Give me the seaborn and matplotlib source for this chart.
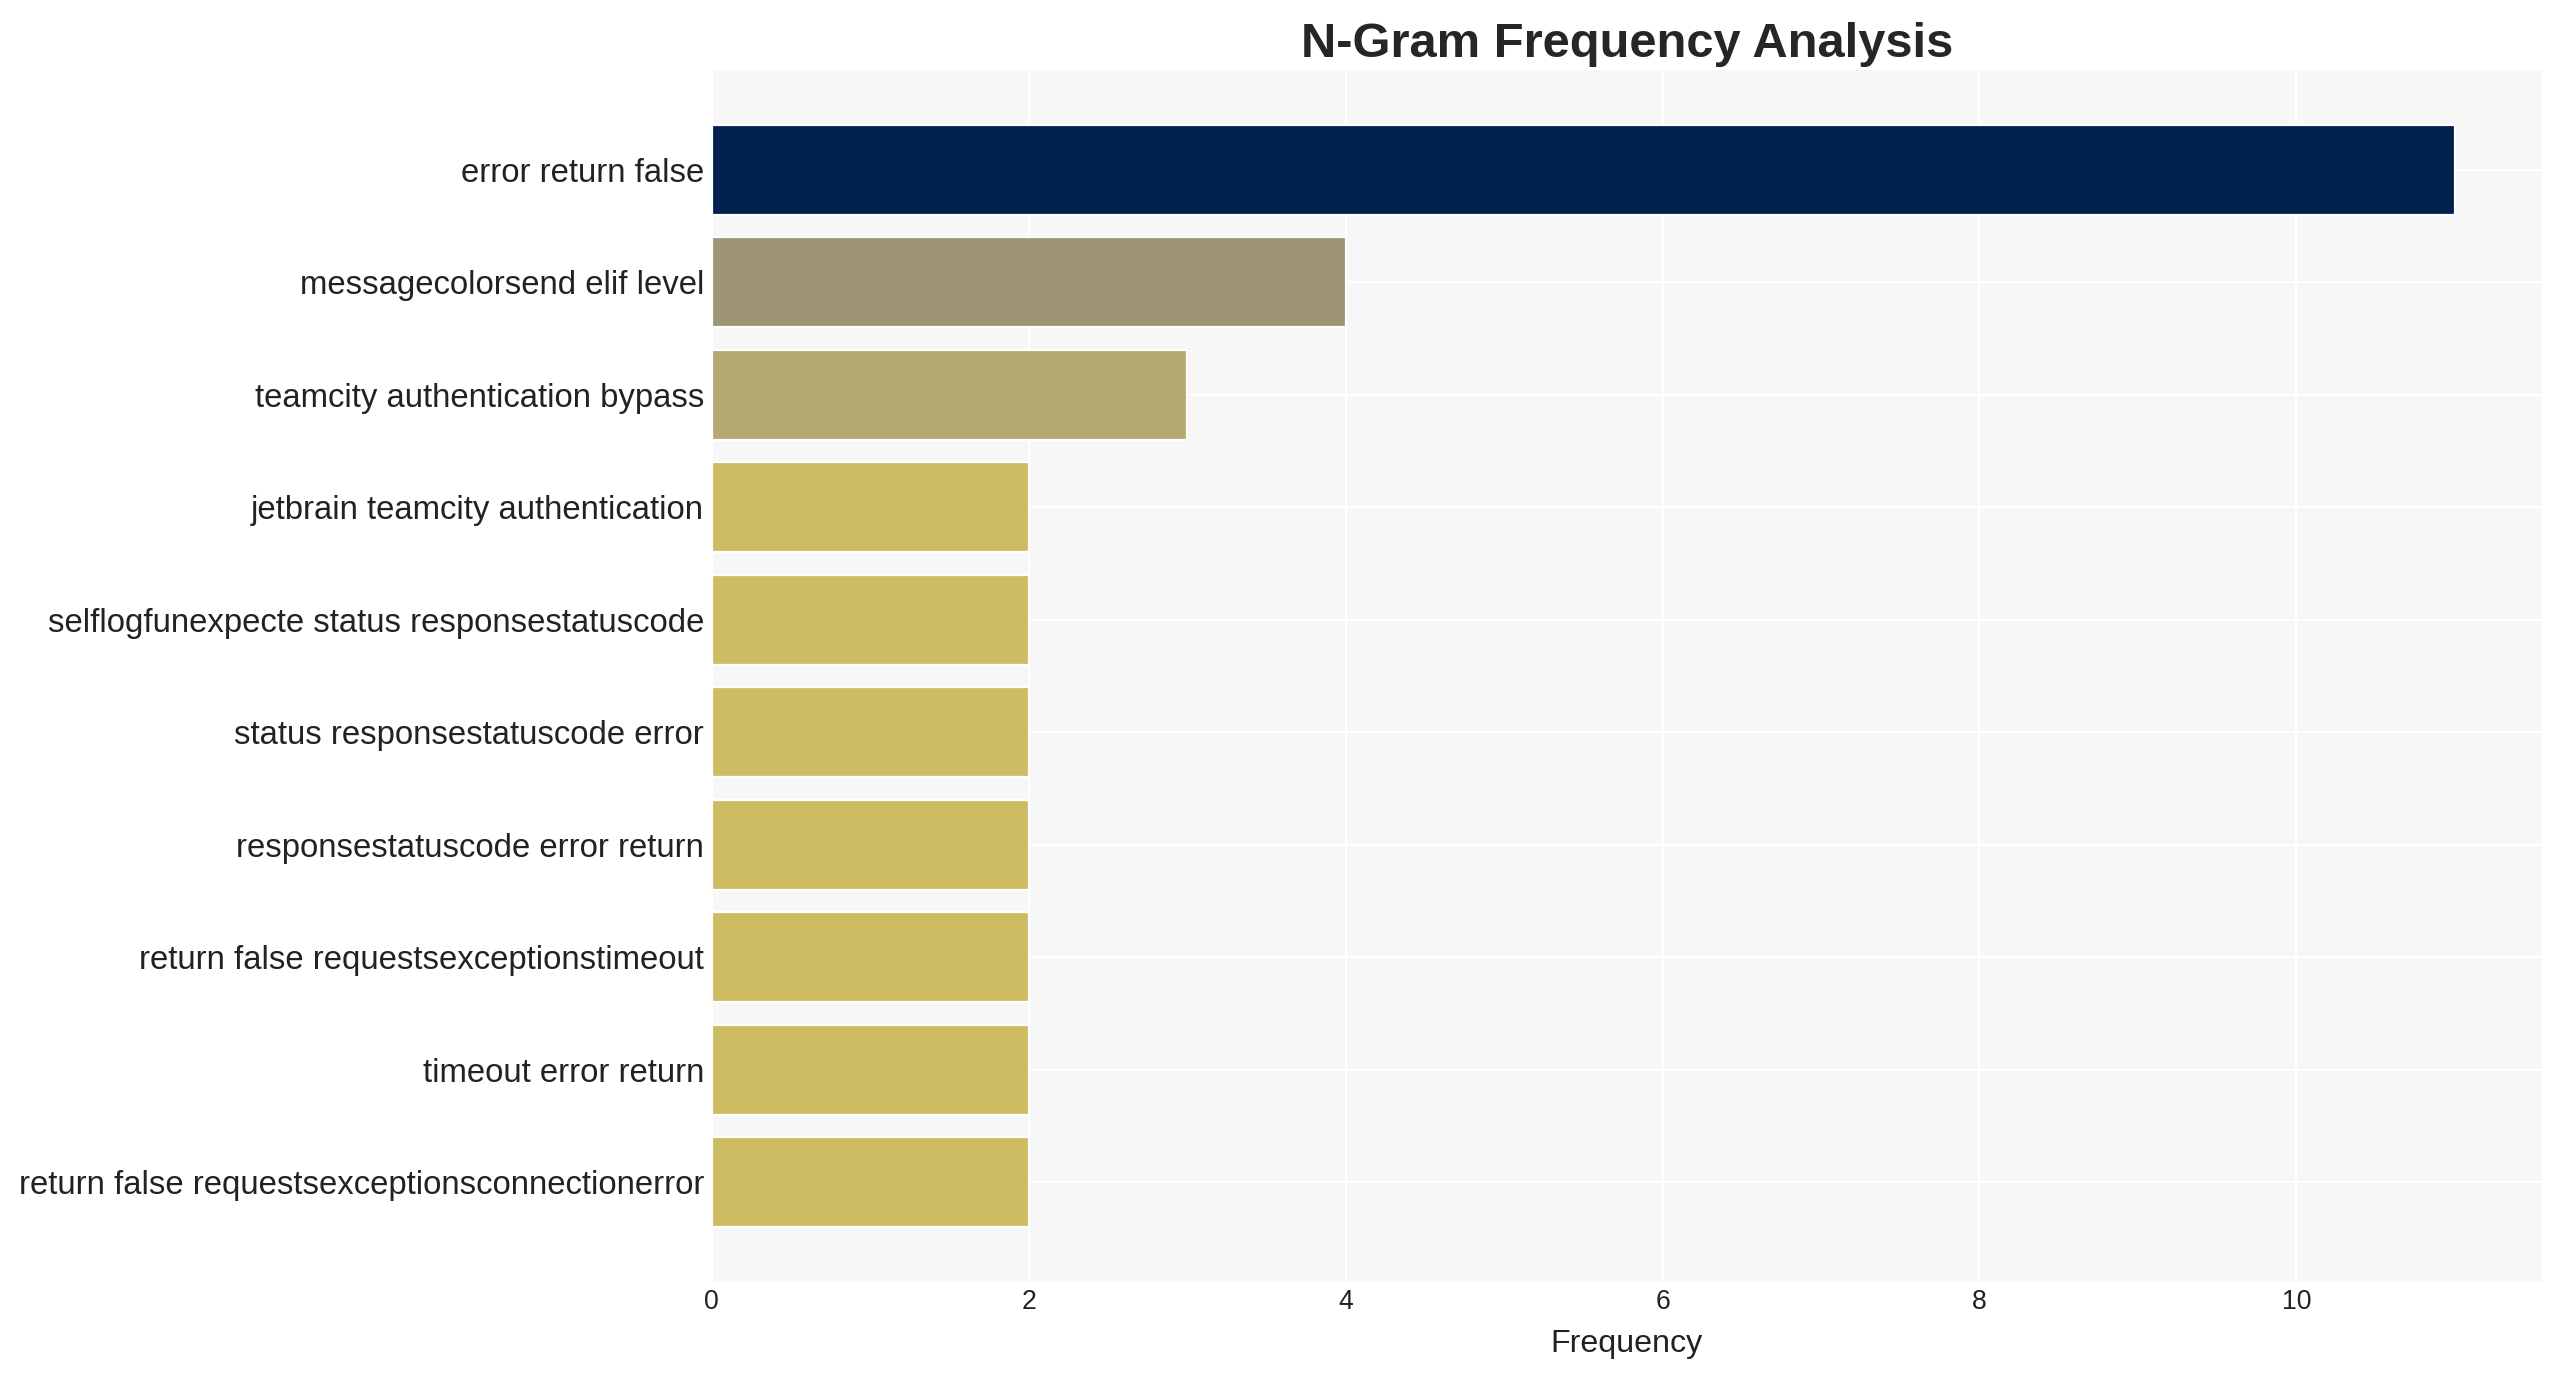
import numpy as np
import pandas as pd
import seaborn as sns
import matplotlib.pyplot as plt
from matplotlib import colors as mcolors

# n-gram counts
ngrams = [
    "error return false",
    "messagecolorsend elif level",
    "teamcity authentication bypass",
    "jetbrain teamcity authentication",
    "selflogfunexpecte status responsestatuscode",
    "status responsestatuscode error",
    "responsestatuscode error return",
    "return false requestsexceptionstimeout",
    "timeout error return",
    "return false requestsexceptionsconnectionerror",
]
counts = [11, 4, 3, 2, 2, 2, 2, 2, 2, 2]

df = pd.DataFrame({"ngram": ngrams, "count": counts})

sns.set_theme(style="whitegrid")
plt.rcParams["font.family"] = ["Liberation Sans", "DejaVu Sans"]

# colour each bar by its count on a reversed cividis scale
norm = mcolors.Normalize(vmin=0, vmax=max(counts))
cmap = plt.get_cmap("cividis_r")
palette = [cmap(norm(c)) for c in counts]

fig, ax = plt.subplots(figsize=(16, 8.6125), dpi=160)
ax.set_facecolor("#f7f7f7")
sns.barplot(data=df, x="count", y="ngram", hue="ngram", palette=palette,
            legend=False, ax=ax, width=0.8, saturation=1)

ax.set_xlim(0, max(counts) * 1.05)
ax.set_ylim(len(ngrams) - 1 + 0.885, -0.885)
ax.grid(True, color="white", linewidth=1)
ax.set_axisbelow(True)
for s in ax.spines.values():
    s.set_visible(False)
ax.tick_params(axis="both", length=0, colors="#222222")
ax.tick_params(axis="y", labelsize=14.8)
ax.tick_params(axis="x", labelsize=12)
ax.set_ylabel("")
ax.set_xlabel("Frequency", fontsize=14.5, color="#222222", labelpad=6)
ax.set_title("N-Gram Frequency Analysis", fontsize=22, fontweight="bold", pad=6)

plt.subplots_adjust(left=0.278, right=0.993, top=0.949, bottom=0.07)
plt.savefig("out.png", dpi=160)
